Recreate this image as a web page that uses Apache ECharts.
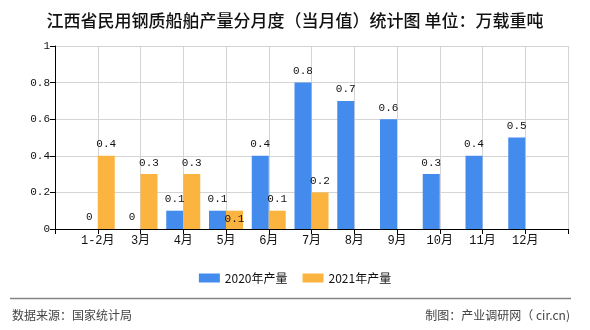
<!DOCTYPE html>
<html>
<head>
<meta charset="utf-8">
<script src="https://cdn.jsdelivr.net/npm/echarts@6/dist/echarts.min.js"></script>
<style>
html,body{margin:0;padding:0;background:#fff;}
#c{width:590px;height:330px;}
</style>
</head>
<body>
<div id="c"></div>
<script>
var categories = ['1-2月','3月','4月','5月','6月','7月','8月','9月','10月','11月','12月'];
var values2020 = [0, 0, 0.1, 0.1, 0.4, 0.8, 0.7, 0.6, 0.3, 0.4, 0.5];
var values2021 = [0.4, 0.3, 0.3, 0.1, 0.1, 0.2, null, null, null, null, null];
var yTicks = [0, 0.2, 0.4, 0.6, 0.8, 1];
var seriesNames = ['2020年产量', '2021年产量'];
var titleText = '江西省民用钢质船舶产量分月度（当月值）统计图 单位：万载重吨';
var sourceText = '数据来源：国家统计局';
var makerText = '制图：产业调研网（ cir.cn)';

var monoFont = '"Liberation Mono", "Noto Sans CJK SC", monospace';
var sansFont = '"Noto Sans CJK SC", sans-serif';
var cjkFirst = '"Noto Sans CJK SC", "Liberation Mono", sans-serif';

var axisData = [''].concat(categories).concat(['']);
function pad(arr){ return [null].concat(arr).concat([null]); }

var d2021 = pad(values2021).map(function(v, i){
  if (i === 4) { return {value: v, label: {position: 'insideTop', distance: 3}}; }
  return v;
});

var chart = echarts.init(document.getElementById('c'), null, {renderer: 'canvas'});
chart.setOption({
  animation: false,
  backgroundColor: '#fff',
  title: {
    text: titleText,
    left: 'center',
    top: 7,
    textStyle: {fontFamily: sansFont, fontSize: 17, fontWeight: 500, color: '#111'}
  },
  legend: {
    data: seriesNames,
    left: 'center',
    top: 267,
    icon: 'rect',
    itemWidth: 21,
    itemHeight: 9,
    itemGap: 15,
    textStyle: {fontFamily: sansFont, fontSize: 12, color: '#111'}
  },
  grid: {left: 55, right: 22, top: 46, bottom: 101, containLabel: false},
  xAxis: {
    type: 'category',
    data: axisData,
    boundaryGap: false,
    axisLine: {lineStyle: {color: '#000', width: 1}},
    axisTick: {show: true, length: 5, lineStyle: {color: '#000'}},
    axisLabel: {interval: 0, margin: 6, fontFamily: monoFont, fontSize: 12, color: '#111'},
    splitLine: {show: true, lineStyle: {color: '#d4d4d4', width: 1}}
  },
  yAxis: {
    type: 'value',
    min: yTicks[0],
    max: yTicks[yTicks.length - 1],
    interval: 0.2,
    axisLine: {show: true, lineStyle: {color: '#000', width: 1}},
    axisTick: {show: true, length: 5, lineStyle: {color: '#000'}},
    axisLabel: {margin: 5, fontFamily: monoFont, fontSize: 11, color: '#111'},
    splitLine: {show: true, lineStyle: {color: '#d4d4d4', width: 1}}
  },
  series: [
    {
      name: seriesNames[0],
      type: 'bar',
      data: pad(values2020),
      barWidth: 17,
      barGap: '0%',
      itemStyle: {color: '#438CEE'},
      label: {show: true, position: 'top', distance: 6, fontFamily: monoFont, fontSize: 11, color: '#111'}
    },
    {
      name: seriesNames[1],
      type: 'bar',
      data: d2021,
      barWidth: 17,
      barGap: '0%',
      itemStyle: {color: '#FBB43F'},
      label: {show: true, position: 'top', distance: 6, fontFamily: monoFont, fontSize: 11, color: '#111'}
    }
  ],
  graphic: [
    {type: 'line', shape: {x1: 10, y1: 298.5, x2: 571, y2: 298.5}, style: {stroke: '#858585', lineWidth: 1.5}},
    {type: 'text', left: 12, top: 309, style: {text: sourceText, fontFamily: cjkFirst, fontSize: 12, fill: '#444'}},
    {type: 'text', right: 20, top: 309, style: {text: makerText, fontFamily: cjkFirst, fontSize: 12, fill: '#444'}}
  ]
});
</script>
</body>
</html>
